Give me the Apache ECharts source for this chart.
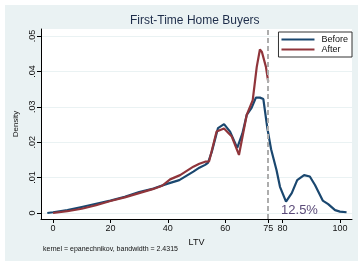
<!DOCTYPE html>
<html>
<head>
<meta charset="utf-8">
<script src="https://cdn.jsdelivr.net/npm/echarts@6/dist/echarts.min.js"></script>
<style>
   html, body { margin: 0; padding: 0; background: #fff; }
   #main { width: 359px; height: 262px; }
</style>
</head>
<body>
<div id="main"></div>
<script>
// values
const ltvBefore = [-2, 0, 5, 10, 15, 20, 25, 30, 35, 40, 44, 48.9, 51, 53, 54, 55.3, 57.5, 59.6, 61.7, 64.2, 66, 67.5, 69.2, 70.7, 72.1, 73.3, 74.7, 76, 77.9, 79.1, 81.2, 83.2, 85.1, 87.5, 89.5, 91.3, 94, 95.9, 98.3, 100, 102.3];
const densityBefore = [0, 0.0002, 0.0008, 0.0017, 0.0026, 0.0035, 0.0046, 0.0059, 0.0069, 0.0083, 0.0093, 0.0117, 0.0128, 0.0136, 0.0142, 0.0172, 0.024, 0.0251, 0.023, 0.0184, 0.0225, 0.0277, 0.0297, 0.0326, 0.0326, 0.0322, 0.0239, 0.018, 0.0121, 0.0074, 0.0032, 0.0056, 0.0093, 0.0107, 0.0103, 0.0079, 0.0035, 0.0025, 0.0008, 0.0004, 0.0002];

const ltvAfter = [0, 5, 10, 15, 20, 25, 30, 35, 38, 40.8, 44.3, 48.9, 51, 53, 54.4, 57, 59.6, 62.3, 64.8, 67.5, 69.6, 71, 72.1, 72.8, 74.2, 75];
const densityAfter = [0, 0.0005, 0.0012, 0.0022, 0.0034, 0.0044, 0.0056, 0.0068, 0.0077, 0.0095, 0.0107, 0.0131, 0.0139, 0.0145, 0.0146, 0.023, 0.0239, 0.0216, 0.0164, 0.0277, 0.0319, 0.0413, 0.0462, 0.0455, 0.0413, 0.0371];

const xTicks = [0, 20, 40, 60, 75, 80, 100];
const yTicks = [0, 0.01, 0.02, 0.03, 0.04, 0.05];
const cutoff = 75;
const shareAbove = "12.5%";

const font = "Liberation Sans, Arial, sans-serif";

const pairs = (xs, ys) => xs.map((x, i) => [x, ys[i]]);

const myChart = echarts.init(document.getElementById("main"));

const option = {
   backgroundColor: "#fff",
   animation: false,
   graphic: [
      {
         type: "rect",
         z: -100,
         shape: { x: 5, y: 5, width: 353, height: 256 },
         style: { fill: "#eaf2f3" },
      },
      {
         type: "text",
         left: 43,
         top: 246,
         style: {
            text: "kernel = epanechnikov, bandwidth = 2.4315",
            font: "7px " + font,
            fill: "#111",
         },
      },
   ],
   title: {
      text: "First-Time Home Buyers",
      left: 130,
      top: 15,
      padding: 0,
      textStyle: { fontFamily: font, fontSize: 12, fontWeight: "normal", color: "#1e2d4a" },
   },
   legend: {
      orient: "vertical",
      right: 7,
      top: 32,
      padding: [3, 4, 3, 3],
      itemGap: 1,
      itemWidth: 33,
      itemHeight: 2,
      icon: "rect",
      backgroundColor: "#fff",
      borderColor: "#333",
      borderWidth: 1,
      textStyle: { fontFamily: font, fontSize: 9, color: "#111", padding: [0, 0, 0, 2] },
      data: ["Before", "After"],
   },
   grid: {
      left: 41,
      top: 29,
      right: 7,
      bottom: 43,
      show: true,
      backgroundColor: "#fff",
      borderWidth: 0,
   },
   xAxis: {
      type: "value",
      min: -4.2,
      max: 104.2,
      name: "LTV",
      nameLocation: "middle",
      nameGap: 19,
      nameTextStyle: { fontFamily: font, fontSize: 9, color: "#111" },
      axisLine: { onZero: false, lineStyle: { color: "#000", width: 1 } },
      axisTick: { customValues: xTicks, length: 4, lineStyle: { color: "#000" } },
      axisLabel: { customValues: xTicks, fontFamily: font, fontSize: 9, color: "#111", margin: 5 },
      splitLine: { show: false },
   },
   yAxis: {
      type: "value",
      min: -0.0017,
      max: 0.052,
      name: "Density",
      nameLocation: "middle",
      nameGap: 19,
      nameTextStyle: { fontFamily: font, fontSize: 8, color: "#111" },
      axisLine: { show: true, onZero: false, lineStyle: { color: "#000", width: 1 } },
      axisTick: { show: true, customValues: yTicks, length: 4, lineStyle: { color: "#000" } },
      axisLabel: {
         customValues: yTicks,
         rotate: 90,
         margin: 4,
         fontFamily: font,
         fontSize: 9,
         color: "#111",
         formatter: (v) => (v === 0 ? "0" : v.toFixed(2).replace(/^0/, "")),
      },
      splitLine: { show: true, lineStyle: { color: "#eaf2f3", width: 1 } },
   },
   series: [
      {
         name: "Before",
         type: "line",
         symbol: "none",
         color: "#1a476f",
         lineStyle: { color: "#1a476f", width: 2.2 },
         data: pairs(ltvBefore, densityBefore),
         markLine: {
            silent: true,
            symbol: ["none", "none"],
            label: { show: false },
            lineStyle: { color: "#adadad", type: [5, 3], width: 2 },
            data: [{ xAxis: cutoff }],
         },
         markPoint: {
            symbol: "circle",
            symbolSize: 0,
            label: {
               show: true,
               position: "inside",
               formatter: shareAbove,
               fontFamily: font,
               fontSize: 13,
               color: "#5a4a78",
            },
            data: [{ coord: [85.9, 0.0006] }],
         },
         z: 2,
      },
      {
         name: "After",
         type: "line",
         symbol: "none",
         color: "#90353b",
         lineStyle: { color: "#90353b", width: 2.2 },
         data: pairs(ltvAfter, densityAfter),
         z: 3,
      },
   ],
};

myChart.setOption(option);
</script>
</body>
</html>
